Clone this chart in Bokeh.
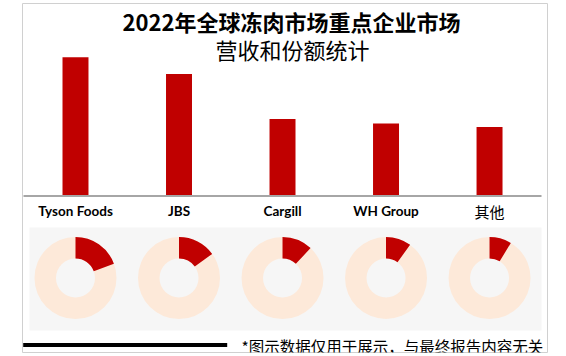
import math
from bokeh.plotting import figure
from bokeh.models import Range1d
from bokeh.core.properties import value
from bokeh.embed import file_html
from bokeh.resources import INLINE

# ---- data ----
companies = ["Tyson Foods", "JBS", "Cargill", "WH Group", "其他"]
revenue = [53.3, 46.9, 29.6, 27.9, 26.5]        # bar values
share = [19.3, 15.0, 12.0, 10.0, 8.7]            # market share, %
title_lines = ["2022年全球冻肉市场重点企业市场", "营收和份额统计"]
note = "*图示数据仅用于展示，与最终报告内容无关"

RED = "#C00000"
PEACH = "#FDE9D9"
CJK = value("Noto Sans CJK SC")

W, H = 566, 356
xs = list(range(len(companies)))

p = figure(width=W, height=H, output_backend="svg", toolbar_location=None,
           title=None,
           x_range=Range1d(-0.512, 4.560), y_range=Range1d(-60.2, 74.0),
           x_axis_location=None, y_axis_location=None,
           min_border_left=22, min_border_right=19,
           min_border_top=3, min_border_bottom=4,
           background_fill_color="white", border_fill_color="white",
           outline_line_color="#d0d0d0", outline_line_width=1)
p.xgrid.visible = False
p.ygrid.visible = False

# layout ranges in pixel-like units (y inverted: top = small numbers)
p.extra_x_ranges = {"lx": Range1d(22, 547)}
p.extra_y_ranges = {"ly": Range1d(352, 3)}

# bars
p.vbar(x=xs, top=revenue, bottom=0, width=0.251, fill_color=RED, line_color=None)
# baseline axis line
p.segment(x0=[23], y0=[0], x1=[541], y1=[0], x_range_name="lx",
          line_color="#a6a6a6", line_width=2)

# category labels
p.text(x=xs[:4], y=[210.7] * 4, text=companies[:4], y_range_name="ly",
       text_font=value("Lato"), text_font_style="bold", text_font_size="13.5px",
       text_align="center", text_baseline="middle", text_color="black")
p.text(x=xs[4:], y=[210.7], text=companies[4:], y_range_name="ly",
       text_font=CJK, text_font_style="normal", text_font_size="15px",
       text_align="center", text_baseline="middle", text_color="black")

# donut panel
p.quad(left=[29], right=[541], top=[227], bottom=[330], x_range_name="lx",
       y_range_name="ly", fill_color="#f6f6f6", line_color=None)

# donuts
p.annulus(x=xs, y=[277.5] * len(xs), inner_radius=19.5, outer_radius=41,
          inner_radius_units="screen", outer_radius_units="screen",
          y_range_name="ly", fill_color=PEACH, line_color=None)
starts = [math.pi / 2 - s / 100 * 2 * math.pi for s in share]
ends = [math.pi / 2] * len(share)
p.annular_wedge(x=xs, y=[277.5] * len(xs), inner_radius=19.5, outer_radius=41,
                inner_radius_units="screen", outer_radius_units="screen",
                start_angle=starts, end_angle=ends, direction="anticlock",
                y_range_name="ly", fill_color=RED, line_color=None)

# title
p.text(x=[291], y=[20], text=[title_lines[0]], x_range_name="lx", y_range_name="ly",
       text_font=CJK, text_font_style="bold", text_font_size="22px",
       text_align="center", text_baseline="middle", text_color="black")
p.text(x=[292], y=[48], text=[title_lines[1]], x_range_name="lx", y_range_name="ly",
       text_font=CJK, text_font_style="normal", text_font_size="22px",
       text_align="center", text_baseline="middle", text_color="black")

# footer
p.segment(x0=[22.7], y0=[344.5], x1=[226.7], y1=[344.5], x_range_name="lx",
          y_range_name="ly", line_color="black", line_width=4)
p.text(x=[241], y=[345], text=[note], x_range_name="lx", y_range_name="ly",
       text_font=CJK, text_font_style="normal", text_font_size="15.5px",
       text_align="left", text_baseline="middle", text_color="black")

open("out.html", "w").write(file_html(p, INLINE))
